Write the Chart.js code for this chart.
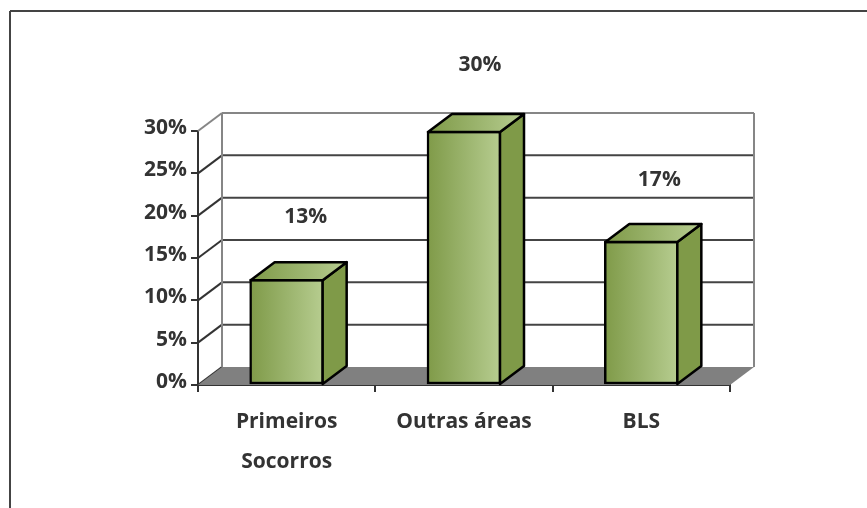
<!DOCTYPE html>
<html>
<head>
<meta charset="utf-8">
<style>
  body { margin: 0; background: #fff; }
  canvas { display: block; }
</style>
<script src="https://cdn.jsdelivr.net/npm/chart.js@4"></script>
</head>
<body>
<canvas id="my-chart" width="867" height="508"></canvas>
<script>
var categories = [['Primeiros', 'Socorros'], 'Outras áreas', 'BLS'];
var values = [12.5, 30, 17];
var valueLabels = ['13%', '30%', '17%'];

var depthX = 24;
var depthY = 18;
var labelFont = 'bold 21px "Open Sans"';
// hand placed data labels, relative to the bar top
var labelShift = [19, 16, 18];
var labelLift = [63, 67, 62];

function line(ctx, x1, y1, x2, y2, color, width) {
  ctx.strokeStyle = color;
  ctx.lineWidth = width;
  ctx.beginPath();
  ctx.moveTo(x1, y1);
  ctx.lineTo(x2, y2);
  ctx.stroke();
}

function poly(ctx, pts, fill, stroke) {
  ctx.beginPath();
  ctx.moveTo(pts[0][0], pts[0][1]);
  for (var i = 1; i < pts.length; i++) ctx.lineTo(pts[i][0], pts[i][1]);
  ctx.closePath();
  ctx.fillStyle = fill;
  ctx.fill();
  if (stroke) {
    ctx.strokeStyle = stroke;
    ctx.lineWidth = 2.5;
    ctx.lineJoin = 'round';
    ctx.stroke();
  }
}

function greenGradient(ctx, left, right) {
  var g = ctx.createLinearGradient(left, 0, right, 0);
  g.addColorStop(0, '#7f9a48');
  g.addColorStop(0.5, '#9ab36c');
  g.addColorStop(1, '#b7cd90');
  return g;
}

// back walls, floor and the outer frame
var walls = {
  id: 'walls',
  beforeDatasetsDraw: function (chart) {
    var ctx = chart.ctx, a = chart.chartArea, y = chart.scales.y;
    ctx.save();
    line(ctx, 10, 11, 867, 11, '#444', 2);
    line(ctx, 10, 11, 10, 508, '#444', 2);
    y.ticks.forEach(function (t) {
      var py = y.getPixelForValue(t.value);
      var top = t.value === 30;
      line(ctx, a.left, py, a.left + depthX, py - depthY, top ? '#868686' : '#333', 2);
      if (t.value > 0) line(ctx, a.left + depthX, py - depthY, a.right + depthX, py - depthY, top ? '#868686' : '#444', 2);
    });
    line(ctx, a.left + depthX, a.top - depthY, a.left + depthX, a.bottom - depthY, '#868686', 2);
    line(ctx, a.right + depthX, a.top - depthY, a.right + depthX, a.bottom - depthY, '#868686', 2);
    poly(ctx, [[a.left, a.bottom], [a.left + depthX, a.bottom - depthY], [a.right + depthX, a.bottom - depthY], [a.right, a.bottom]], '#808080');
    ctx.restore();
  }
};

// side and top faces of each bar, plus the value labels
var barFaces = {
  id: 'barFaces',
  afterDatasetsDraw: function (chart) {
    var ctx = chart.ctx;
    ctx.save();
    chart.getDatasetMeta(0).data.forEach(function (bar, i) {
      var l = bar.x - bar.width / 2 + 1, r = bar.x + bar.width / 2 - 1, t = bar.y + 1, b = bar.base;
      poly(ctx, [[r, t], [r + depthX, t - depthY], [r + depthX, b - depthY], [r, b]], '#7f9a48', '#000');
      poly(ctx, [[l, t], [l + depthX, t - depthY], [r + depthX, t - depthY], [r, t]], greenGradient(ctx, l, r + depthX), '#000');
      ctx.fillStyle = '#333';
      ctx.font = labelFont;
      ctx.textAlign = 'center';
      ctx.textBaseline = 'middle';
      ctx.fillText(valueLabels[i], bar.x + labelShift[i], t - labelLift[i]);
    });
    ctx.restore();
  }
};

var chart1 = document.getElementById('my-chart').getContext('2d');

var myChart = new Chart(chart1, {
  type: 'bar',
  data: {
    labels: categories,
    datasets: [{
      data: values,
      backgroundColor: function (c) {
        var x = c.chart.scales.x;
        var mid = x && c.dataIndex !== undefined ? x.getPixelForValue(c.dataIndex) : NaN;
        if (!isFinite(mid)) return '#9ab36c';
        return greenGradient(c.chart.ctx, mid - 37, mid + 37);
      },
      borderColor: '#000',
      borderWidth: 2.5,
      borderSkipped: false,
      barThickness: 74
    }]
  },
  plugins: [walls, barFaces],
  options: {
    responsive: false,
    animation: false,
    layout: { padding: { top: 131, right: 137, bottom: 0, left: 0 } },
    plugins: { legend: { display: false }, tooltip: { enabled: false } },
    scales: {
      x: {
        afterFit: function (s) { s.height = 123; },
        border: { color: '#333', width: 2 },
        grid: { offset: true, drawOnChartArea: false, color: '#333', lineWidth: 2, tickLength: 7 },
        ticks: { color: '#333', padding: 10, maxRotation: 0, font: { family: 'Open Sans', size: 21, weight: 'bold', lineHeight: '40px' } }
      },
      y: {
        min: 0,
        max: 30,
        afterFit: function (s) { s.width = 198; },
        border: { color: '#333', width: 2 },
        grid: { drawOnChartArea: false, color: '#333', lineWidth: 2, tickLength: 7 },
        ticks: {
          stepSize: 5,
          color: '#333',
          padding: 4,
          font: { family: 'Open Sans', size: 21, weight: 'bold', lineHeight: '6px' },
          // empty second line lifts the label a little above its tick
          callback: function (v) { return [v + '%', '']; }
        }
      }
    }
  }
});
</script>
</body>
</html>
